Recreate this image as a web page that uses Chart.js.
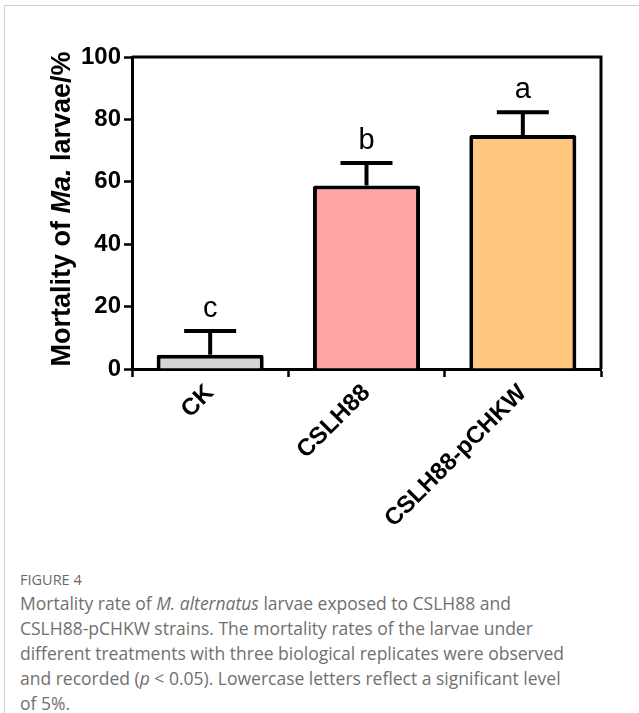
<!DOCTYPE html>
<html>
<head>
<meta charset="utf-8">
<script src="https://cdn.jsdelivr.net/npm/chart.js@4"></script>
<style>
  html, body { margin: 0; padding: 0; background: #fff; }
  body { width: 639px; height: 713px; position: relative; overflow: hidden; }
  #frame {
    position: absolute; left: 4px; top: 5px; width: 700px; height: 800px;
    border-left: 1px solid #cfcfcf; border-top: 1px solid #cfcfcf;
  }
  #chart-wrap { position: absolute; left: 0; top: 0; width: 639px; height: 545px; }
  #caption {
    position: absolute; left: 20px; top: 569px;
    font-family: "Open Sans", sans-serif; color: #707070;
    white-space: nowrap;
  }
  #caption .fig { font-size: 14.5px; color: #6a6a6a; line-height: 22px; }
  #caption .txt { font-size: 17.5px; line-height: 25px; }
</style>
</head>
<body>
<div id="frame"></div>
<div id="chart-wrap"><canvas id="mortalityChart"></canvas></div>
<div id="caption">
  <div class="fig">FIGURE 4</div>
  <div class="txt">Mortality rate of <i>M. alternatus</i> larvae exposed to CSLH88 and<br>CSLH88-pCHKW strains. The mortality rates of the larvae under<br>different treatments with three biological replicates were observed<br>and recorded (<i>p</i> &lt; 0.05). Lowercase letters reflect a significant level<br>of 5%.</div>
</div>
<script>
// --- Data ---
const treatments = ["CK", "CSLH88", "CSLH88-pCHKW"];
const mortality = [4.6, 58.8, 75.0];
const errors = [7.6, 7.2, 7.3];
const sigLetters = ["c", "b", "a"];
const yTicks = [0, 20, 40, 60, 80, 100];
const barColors = ["#d6d6d6", "#ffa3a3", "#ffc680"];

const tickFont = { family: "'Liberation Sans', Arial, sans-serif", size: 24, weight: "bold" };

// error bars (upper half only) + significance letters
const errorBarPlugin = {
  id: "errorBars",
  afterDatasetsDraw(chart) {
    const ctx = chart.ctx;
    const yScale = chart.scales.y;
    const meta = chart.getDatasetMeta(0);
    ctx.save();
    ctx.strokeStyle = "#000";
    ctx.lineWidth = 4;
    meta.data.forEach((bar, i) => {
      const top = yScale.getPixelForValue(mortality[i] + errors[i]);
      const base = yScale.getPixelForValue(mortality[i]);
      ctx.beginPath();
      ctx.moveTo(bar.x, base);
      ctx.lineTo(bar.x, top);
      ctx.moveTo(bar.x - 26, top);
      ctx.lineTo(bar.x + 26, top);
      ctx.stroke();

      ctx.fillStyle = "#000";
      ctx.font = "29px 'Liberation Sans', Arial, sans-serif";
      ctx.textAlign = "center";
      ctx.textBaseline = "alphabetic";
      ctx.fillText(sigLetters[i], bar.x, top - 14);
    });
    ctx.restore();
  }
};

// top + right frame lines and the mixed-style y axis title
const framePlugin = {
  id: "frameAndTitle",
  afterDraw(chart) {
    const { ctx, chartArea } = chart;
    ctx.save();
    ctx.strokeStyle = "#000";
    ctx.lineWidth = 3;
    ctx.beginPath();
    ctx.moveTo(chartArea.left, chartArea.top);
    ctx.lineTo(chartArea.right, chartArea.top);
    ctx.lineTo(chartArea.right, chartArea.bottom);
    ctx.stroke();

    // y axis title: "Mortality of Ma. larvae/%"
    const parts = [
      { t: "Mortality of ", f: "bold 27px 'Liberation Sans', Arial, sans-serif" },
      { t: "Ma.", f: "italic bold 27px 'Liberation Sans', Arial, sans-serif" },
      { t: " larvae/%", f: "bold 27px 'Liberation Sans', Arial, sans-serif" }
    ];
    let total = 0;
    parts.forEach(p => { ctx.font = p.f; p.w = ctx.measureText(p.t).width; total += p.w; });
    const cx = 63;
    const cy = (chartArea.top + chartArea.bottom) / 2 - 4;
    ctx.translate(cx, cy);
    ctx.rotate(-Math.PI / 2);
    ctx.fillStyle = "#000";
    ctx.textBaseline = "middle";
    ctx.textAlign = "left";
    let x = -total / 2;
    parts.forEach(p => { ctx.font = p.f; ctx.fillText(p.t, x, 0); x += p.w; });
    ctx.restore();
  }
};

new Chart(document.getElementById("mortalityChart"), {
  type: "bar",
  data: {
    labels: treatments,
    datasets: [{
      data: mortality,
      backgroundColor: barColors,
      borderColor: "#000",
      borderWidth: 4,
      borderRadius: 2,
      borderSkipped: "start",
      categoryPercentage: 1,
      barPercentage: 0.685
    }]
  },
  options: {
    responsive: true,
    maintainAspectRatio: false,
    animation: false,
    layout: { padding: { top: 57, right: 38, left: 0, bottom: 0 } },
    plugins: { legend: { display: false }, tooltip: { enabled: false } },
    scales: {
      x: {
        offset: true,
        grid: { display: true, drawOnChartArea: false, drawTicks: true, tickLength: 8, tickColor: "#000", tickWidth: 2.5 },
        border: { display: true, color: "#000", width: 3 },
        ticks: { color: "#000", font: tickFont, minRotation: 45, maxRotation: 45, padding: 2 },
        afterFit(scale) { scale.height = 545 - 369; }
      },
      y: {
        min: 0,
        max: 100,
        afterBuildTicks(scale) { scale.ticks = yTicks.map(v => ({ value: v })); },
        grid: { display: true, drawOnChartArea: false, drawTicks: true, tickLength: 8, tickColor: "#000", tickWidth: 2.5 },
        border: { display: true, color: "#000", width: 3 },
        ticks: { color: "#000", font: tickFont, padding: 3 },
        afterFit(scale) { scale.width = 132; }
      }
    }
  },
  plugins: [errorBarPlugin, framePlugin]
});
</script>
</body>
</html>
